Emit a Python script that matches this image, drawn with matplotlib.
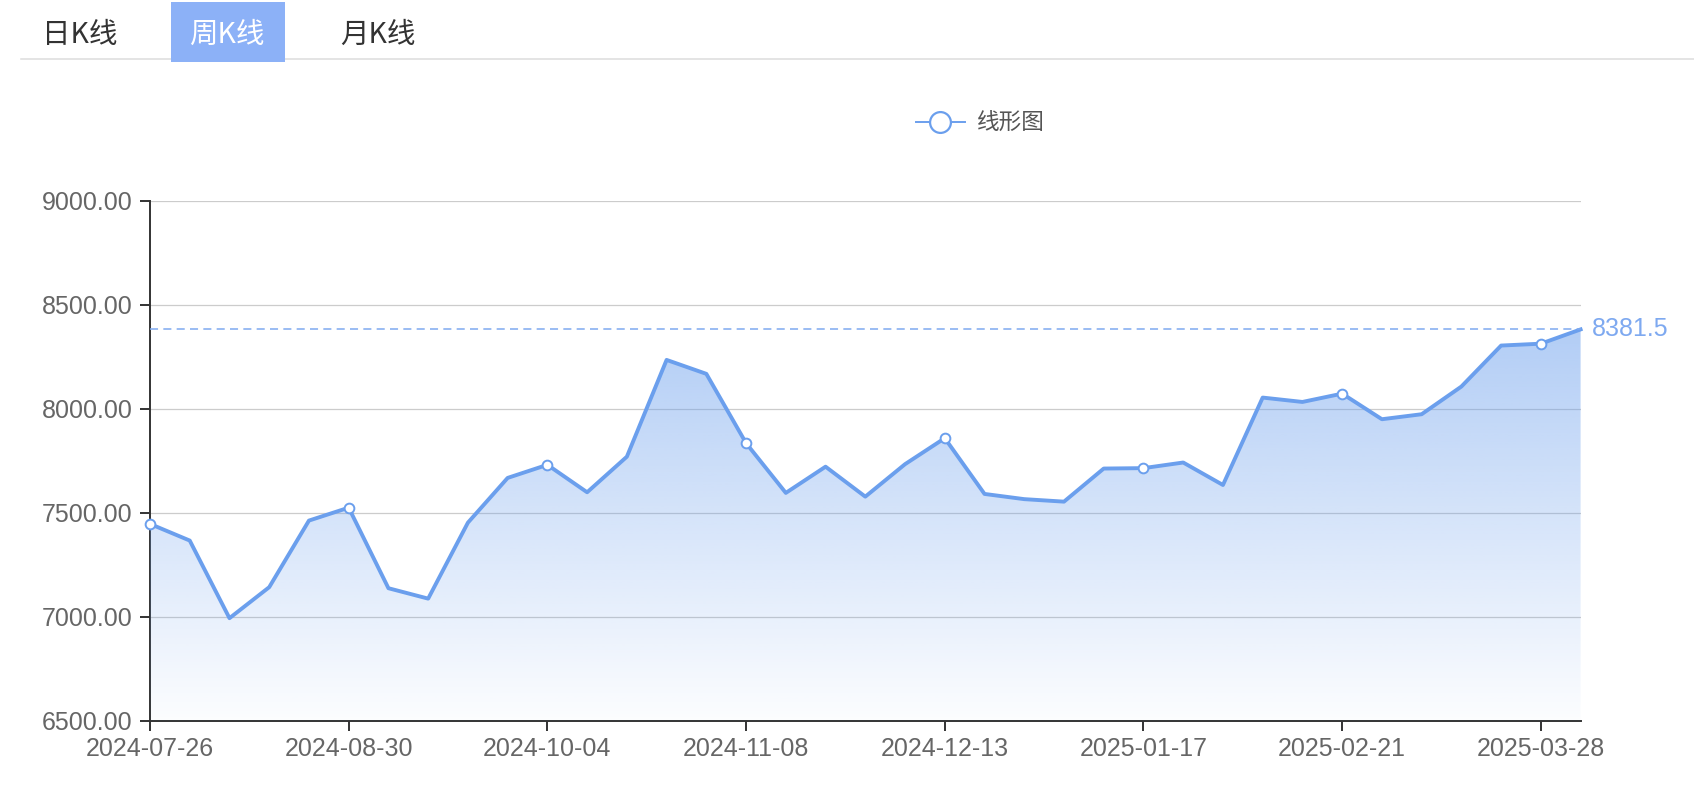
import matplotlib
matplotlib.use("Agg")
import matplotlib.pyplot as plt
import numpy as np
from matplotlib.patches import Polygon, Rectangle
from matplotlib.lines import Line2D
from matplotlib.transforms import blended_transform_factory

plt.rcParams['font.family'] = ['Liberation Sans', 'Noto Sans CJK SC', 'DejaVu Sans']
plt.rcParams['lines.scale_dashes'] = False

# ---------------- data ----------------
dates = ["2024-07-26", "2024-08-02", "2024-08-09", "2024-08-16", "2024-08-23",
         "2024-08-30", "2024-09-06", "2024-09-13", "2024-09-20", "2024-09-27",
         "2024-10-04", "2024-10-11", "2024-10-18", "2024-10-25", "2024-11-01",
         "2024-11-08", "2024-11-15", "2024-11-22", "2024-11-29", "2024-12-06",
         "2024-12-13", "2024-12-20", "2024-12-27", "2025-01-03", "2025-01-10",
         "2025-01-17", "2025-01-24", "2025-01-31", "2025-02-07", "2025-02-14",
         "2025-02-21", "2025-02-28", "2025-03-07", "2025-03-14", "2025-03-21",
         "2025-03-28", "2025-04-04"]
values = [7447, 7367, 6994, 7143, 7463, 7525, 7138, 7088, 7453, 7668,
          7731, 7599, 7770, 8235, 8168, 7835, 7596, 7722, 7578, 7734,
          7859, 7591, 7566, 7554, 7713, 7715, 7742, 7634, 8054, 8033,
          8073, 7950, 7974, 8107, 8304, 8313, 8381.5]
mark_value = 8381.5
y_ticks = [6500, 7000, 7500, 8000, 8500, 9000]
tabs = ["日K线", "周K线", "月K线"]
legend_label = "线形图"

# ---------------- figure ----------------
W, H = 1694, 792
fig = plt.figure(figsize=(W / 100, H / 100), dpi=100)
fig.patch.set_facecolor('white')

def fx(px):
    return px / W

def fy(py):
    return 1 - py / H

LINE_C = '#6b9fed'
ax = fig.add_axes([fx(150), fy(721), (1580.6 - 150) / W, (721 - 200.7) / H])

x = np.arange(len(values))
ax.set_xlim(0, len(values) - 1)
ax.set_ylim(y_ticks[0], y_ticks[-1])

# grid
ax.set_axisbelow(True)
ax.yaxis.grid(True, color='#cccccc', lw=0.9)
ax.xaxis.grid(False)

# gradient fill
ymax = max(values)
n = 256
alpha = np.linspace(0.52, 0.02, n)
rgba = np.zeros((n, 2, 4))
rgba[..., 0] = 107 / 255
rgba[..., 1] = 159 / 255
rgba[..., 2] = 237 / 255
rgba[..., 3] = alpha[:, None]
img = ax.imshow(rgba, extent=[0, len(values) - 1, y_ticks[0], ymax],
                aspect='auto', origin='upper', zorder=3, interpolation='bilinear')
verts = np.vstack([np.column_stack([x, values]),
                   [[x[-1], y_ticks[0]], [x[0], y_ticks[0]]]])
poly = Polygon(verts, closed=True, transform=ax.transData,
               facecolor='none', edgecolor='none')
ax.add_patch(poly)
img.set_clip_path(poly)

# main line
ax.plot(x, values, color=LINE_C, lw=2.8, zorder=4, solid_joinstyle='round',
        clip_on=False)
mk = x[::5]
ax.plot(mk, [values[i] for i in mk], linestyle='none', marker='o', ms=7,
        mfc='white', mec=LINE_C, mew=1.4, zorder=5, clip_on=False)

# mark line
ax.axhline(mark_value, color='#7ea9f0', lw=1.1, dashes=(5.8, 3.8), zorder=4)
trans = blended_transform_factory(ax.transAxes, ax.transData)
ax.annotate(f"{mark_value}", xy=(1, mark_value), xycoords=trans,
            xytext=(8, 0), textcoords='offset points', va='center', ha='left',
            fontsize=18, color='#7ea9f0')

# axes styling
for s in ['top', 'right']:
    ax.spines[s].set_visible(False)
for s in ['left', 'bottom']:
    ax.spines[s].set_color('#333333')
    ax.spines[s].set_linewidth(1.4)
ax.set_yticks(y_ticks)
ax.set_yticklabels([f"{v:.2f}" for v in y_ticks])
ax.set_xticks(x[::5])
ax.set_xticklabels([dates[i] for i in x[::5]])
ax.tick_params(axis='both', colors='#333333', length=7.5, width=1.4,
               labelsize=18, labelcolor='#666666')
ax.tick_params(axis='y', pad=5)
ax.tick_params(axis='x', pad=4)

# ---------------- tabs ----------------
fig.add_artist(Line2D([fx(21), fx(1694)], [fy(58.7), fy(58.7)],
                      color='#dddddd', lw=1.1, zorder=1))
fig.add_artist(Rectangle((fx(171), fy(62)), fx(285) - fx(171), fy(2) - fy(62),
                         facecolor='#8cb1f7', edgecolor='none', zorder=3))
tab_x = [79.5, 227, 377.5]
for i, (t, px) in enumerate(zip(tabs, tab_x)):
    fig.text(fx(px), fy(35), t, ha='center', va='center', fontsize=20.5,
             color='white' if i == 1 else '#333333', zorder=4,
             family=['Noto Sans CJK SC', 'DejaVu Sans'])

# ---------------- legend ----------------
fig.add_artist(Line2D([fx(916), fx(965)], [fy(122), fy(122)], color=LINE_C, lw=1.4))
fig.add_artist(Line2D([fx(940)], [fy(122)], marker='o', ms=15, mfc='white',
                      mec=LINE_C, mew=1.6, linestyle='none'))
fig.text(fx(977), fy(122), legend_label, ha='left', va='center', fontsize=16.3,
         color='#555555', family=['Noto Sans CJK SC', 'DejaVu Sans'])

fig.savefig('out.png', dpi=100, facecolor='white')
